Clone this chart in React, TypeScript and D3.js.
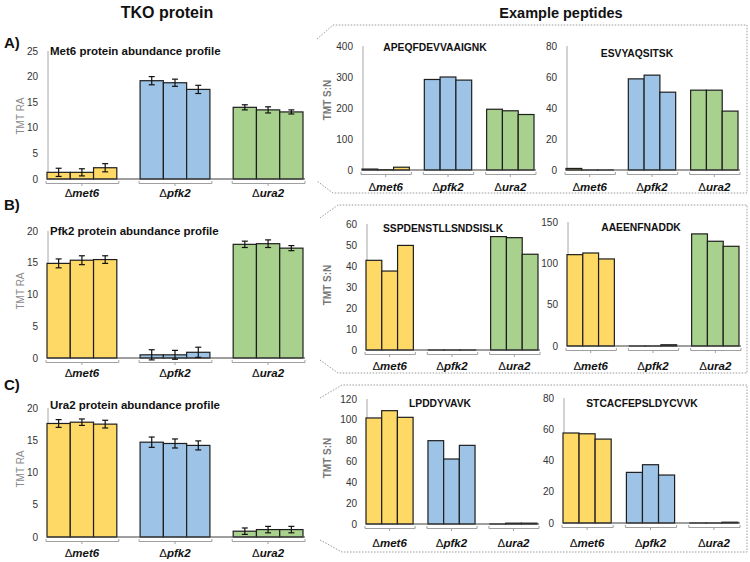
import React from "react";
import * as d3 from "d3";

// ---------- DATA ----------
const categories = ["met6", "pfk2", "ura2"];
const replicates = [0, 1, 2];
const groupColors = ["#FFD966", "#9DC3E6", "#A9D18E"];

// TKO protein (TMT relative abundance), mean and error per replicate
const met6Mean = [[1.3, 1.3, 2.2], [19.2, 18.8, 17.5], [14.0, 13.5, 13.1]];
const met6Err = [[0.8, 0.7, 0.8], [0.8, 0.7, 0.8], [0.5, 0.6, 0.4]];
const pfk2Mean = [[14.9, 15.4, 15.5], [0.5, 0.5, 0.9], [17.9, 18.0, 17.3]];
const pfk2Err = [[0.7, 0.7, 0.6], [0.8, 0.7, 0.8], [0.5, 0.6, 0.4]];
const ura2Mean = [[17.6, 17.8, 17.5], [14.7, 14.5, 14.2], [0.9, 1.15, 1.15]];
const ura2Err = [[0.6, 0.5, 0.6], [0.8, 0.7, 0.7], [0.5, 0.5, 0.5]];

// Example peptides (TMT S:N)
const pepAPEQ = [[3, 1, 9], [292, 300, 290], [196, 191, 179]];
const pepESVY = [[1, 0, 0], [58.8, 61.2, 50.2], [51.5, 51.5, 38]];
const pepSSPD = [[42.7, 37.6, 49.8], [0, 0, 0], [54, 53.5, 45.6]];
const pepAAEE = [[110.5, 112.5, 105.3], [0, 0, 1.5], [135.6, 126.7, 120.6]];
const pepLPDD = [[101.8, 108.8, 102.4], [80, 62.4, 75.5], [0, 0.8, 0.8]];
const pepSTCA = [[57.6, 57.1, 53.7], [32.4, 37.3, 30.7], [0, 0, 0.5]];

const FONT = "'Liberation Sans', Arial, sans-serif";

type ChartProps = {
  x0: number; x1: number; y0: number; yTop: number;
  max: number; step: number; pad: number;
  values: number[][]; errors?: number[][];
  labelY: number;
};

function Chart({ x0, x1, y0, yTop, max, step, pad, values, errors, labelY }: ChartProps) {
  const xb = d3.scaleBand<string>().domain(categories).range([x0, x1]).paddingInner(pad).paddingOuter(0);
  const inner = d3.scaleBand<number>().domain(replicates).range([0, xb.bandwidth()]);
  const y = d3.scaleLinear().domain([0, max]).range([y0, yTop]);
  const ticks = d3.range(0, max + step / 2, step);
  return (
    <g>
      <line x1={x0 + 1} x2={x0 + 1} y1={y(0)} y2={y(max)} stroke="#a6a6a6" strokeWidth={1} />
      {ticks.map((t) => (
        <text key={t} x={x0 - 9} y={y(t)} textAnchor="end" dominantBaseline="central"
          fontSize={10} fill="#333" fontFamily={FONT}>{t}</text>
      ))}
      {categories.map((c, gi) =>
        replicates.map((r) => {
          const v = values[gi][r];
          const bx = (xb(c) as number) + (inner(r) as number);
          const by = y(v);
          const h = Math.max(y(0) - by, 0.01);
          return (
            <rect key={c + r} x={bx} y={y(0) - h} width={inner.bandwidth()} height={h}
              fill={groupColors[gi]} stroke="#1e1e1e" strokeWidth={1.2} />
          );
        })
      )}
      <line x1={x0} x2={x1 + 2} y1={y(0)} y2={y(0)} stroke="#404040" strokeWidth={1.2} />
      {errors && categories.map((c, gi) =>
        replicates.map((r) => {
          const v = values[gi][r];
          const e = errors[gi][r];
          const cx = (xb(c) as number) + (inner(r) as number) + inner.bandwidth() / 2;
          return (
            <g key={"e" + c + r} stroke="#111" strokeWidth={1.2}>
              <line x1={cx} x2={cx} y1={y(v - e)} y2={y(v + e)} />
              <line x1={cx - 3} x2={cx + 3} y1={y(v - e)} y2={y(v - e)} />
              <line x1={cx - 3} x2={cx + 3} y1={y(v + e)} y2={y(v + e)} />
            </g>
          );
        })
      )}
      {categories.map((c) => {
        const s = (xb(c) as number) - 1;
        const e = (xb(c) as number) + xb.bandwidth() + 2;
        const m = (xb(c) as number) + xb.bandwidth() / 2;
        const by = y(0) + 4.5;
        return (
          <g key={"b" + c}>
            <path d={`M${s},${by - 2.5}L${s},${by}L${e},${by}L${e},${by - 2.5}M${m},${by}L${m},${by + 2.5}`}
              fill="none" stroke="#a0a0a0" strokeWidth={1} />
            <text x={m} y={labelY} textAnchor="middle" fontSize={11.5} fontFamily={FONT} fill="#111">
              <tspan>Δ</tspan><tspan fontWeight="bold" fontStyle="italic">{c}</tspan>
            </text>
          </g>
        );
      })}
    </g>
  );
}

function YTitle({ x, y, text, bold }: { x: number; y: number; text: string; bold?: boolean }) {
  return (
    <text transform={`translate(${x},${y}) rotate(-90)`} textAnchor="middle" dominantBaseline="central"
      fontSize={10} fontFamily={FONT} fill={bold ? "#777" : "#8a8a8a"} fontWeight={bold ? "bold" : "normal"}>
      {text}
    </text>
  );
}

function Title({ x, y, text, anchor = "middle", size = 10.3 }: { x: number; y: number; text: string; anchor?: string; size?: number }) {
  return (
    <text x={x} y={y} textAnchor={anchor as any} fontSize={size} fontWeight="bold" fontFamily={FONT} fill="#111">{text}</text>
  );
}

export default function App() {
  const boxes = [
    "M317,39L333,25L747,25L747,193L333,193L317,181",
    "M320,218L338,205L747,205L747,373L338,373L320,360",
    "M320,398L342,385L747,385L747,552L342,552L320,540",
  ];
  return (
    <svg width={750} height={562} style={{ position: "absolute", left: 0, top: 0, background: "#fff" }}>
      <rect x={0} y={0} width={750} height={562} fill="#fff" />
      <text x={167} y={18} textAnchor="middle" fontSize={16} fontWeight="bold" fontFamily={FONT} fill="#111">TKO protein</text>
      <text x={561} y={18} textAnchor="middle" fontSize={14.5} fontWeight="bold" fontFamily={FONT} fill="#111">Example peptides</text>
      <text x={4} y={48} fontSize={15} fontWeight="bold" fontFamily={FONT} fill="#111">A)</text>
      <text x={4} y={210} fontSize={15} fontWeight="bold" fontFamily={FONT} fill="#111">B)</text>
      <text x={4} y={390} fontSize={15} fontWeight="bold" fontFamily={FONT} fill="#111">C)</text>

      {boxes.map((d, i) => (
        <path key={i} d={d} fill="none" stroke="#9a9a9a" strokeWidth={1} strokeDasharray="1.5,1.5" />
      ))}

      {/* Row A */}
      <Chart x0={47} x1={303} y0={179} yTop={51} max={25} step={5} pad={0.25} values={met6Mean} errors={met6Err} labelY={197} />
      <Title x={50} y={55} text="Met6 protein abundance profile" anchor="start" size={11.5} />
      <YTitle x={20} y={116} text="TMT RA" />
      <Chart x0={362} x1={534} y0={170} yTop={46} max={400} step={100} pad={0.24} values={pepAPEQ} labelY={191} />
      <Title x={435} y={51} text="APEQFDEVVAAIGNK" />
      <Chart x0={566} x1={738} y0={170} yTop={46} max={80} step={20} pad={0.24} values={pepESVY} labelY={191} />
      <Title x={637} y={57} text="ESVYAQSITSK" />
      <YTitle x={327} y={100} text="TMT S:N" bold />

      {/* Row B */}
      <Chart x0={47} x1={303} y0={358} yTop={231} max={20} step={5} pad={0.25} values={pfk2Mean} errors={pfk2Err} labelY={377} />
      <Title x={50} y={235} text="Pfk2 protein abundance profile" anchor="start" size={11.5} />
      <YTitle x={20} y={291} text="TMT RA" />
      <Chart x0={366} x1={538} y0={350} yTop={224} max={60} step={10} pad={0.24} values={pepSSPD} labelY={370} />
      <Title x={443} y={232} text="SSPDENSTLLSNDSISLK" />
      <Chart x0={567} x1={739} y0={346} yTop={222} max={150} step={50} pad={0.24} values={pepAAEE} labelY={370} />
      <Title x={641} y={231} text="AAEENFNADDK" />
      <YTitle x={327} y={285} text="TMT S:N" bold />

      {/* Row C */}
      <Chart x0={47} x1={303} y0={537} yTop={408} max={20} step={5} pad={0.25} values={ura2Mean} errors={ura2Err} labelY={557} />
      <Title x={50} y={409} text="Ura2 protein abundance profile" anchor="start" size={11.5} />
      <YTitle x={20} y={469} text="TMT RA" />
      <Chart x0={366} x1={537} y0={524} yTop={399} max={120} step={20} pad={0.24} values={pepLPDD} labelY={547} />
      <Title x={440} y={407} text="LPDDYVAVK" />
      <Chart x0={563} x1={738} y0={523} yTop={398} max={80} step={20} pad={0.24} values={pepSTCA} labelY={547} />
      <Title x={642} y={407} text="STCACFEPSLDYCVVK" />
      <YTitle x={327} y={458} text="TMT S:N" bold />
    </svg>
  );
}
